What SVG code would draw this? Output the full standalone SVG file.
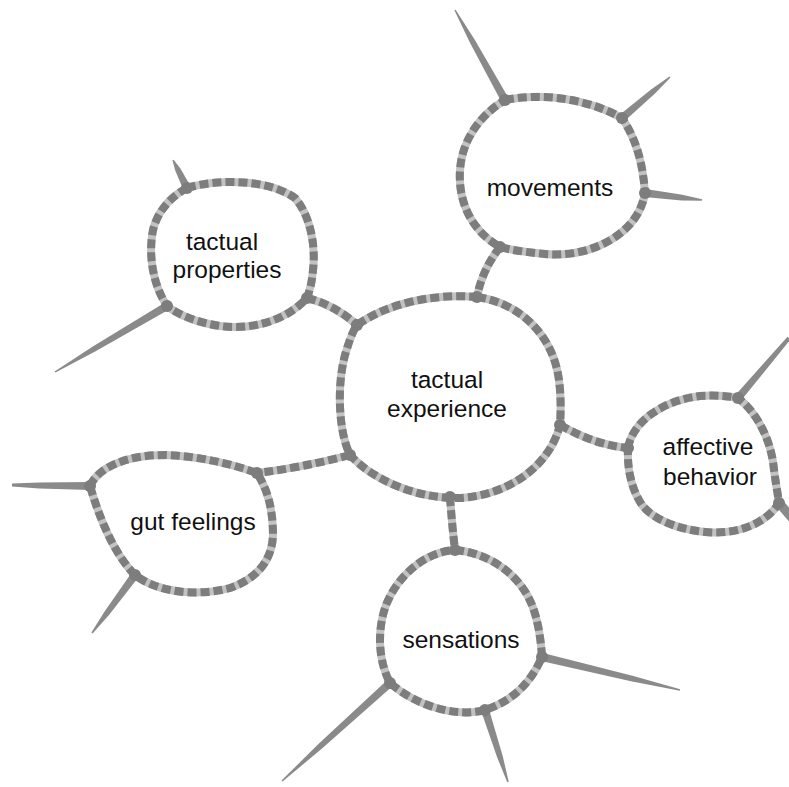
<svg xmlns="http://www.w3.org/2000/svg" width="789" height="787" viewBox="0 0 789 787">
<style>
.base{fill:none;stroke:#c2c2c2;stroke-width:8;stroke-linejoin:round;stroke-linecap:round}
.dash{fill:none;stroke:#7d7d7d;stroke-width:8;stroke-dasharray:9 4;stroke-linejoin:round}
.br{fill:#8a8a8a;stroke:none}
.jn{fill:#7d7d7d}
text{font-family:"Liberation Sans",Arial,sans-serif;font-size:24.5px;fill:#111;text-anchor:middle}
</style>
<defs>
<path id="b-mov" d="M505,100 C545,92 590,100 622,118 C637,140 643,165 645,193 C638,235 590,258 545,254 C525,252 510,250 500,247 C470,230 458,200 460,170 C462,140 480,115 505,100 Z"/>
<path id="b-prop" d="M187,188 C220,178 270,180 295,198 C310,215 316,245 313,270 C312,282 310,290 307,298 C285,322 250,330 220,326 C200,323 180,316 167,306 C153,285 148,255 153,230 C158,210 172,196 187,188 Z"/>
<path id="b-cen" d="M477,297 C520,303 553,335 559,380 C561,395 561,410 560,425 C550,465 510,495 460,498 C420,499 375,482 350,455 C338,430 337,385 345,355 C349,342 352,332 357,325 C385,305 430,293 477,297 Z"/>
<path id="b-gut" d="M90,486 C98,468 125,455 165,455 C200,456 235,465 257,473 C268,490 273,510 273,535 C272,560 258,578 230,588 C200,596 160,594 135,575 C115,555 100,520 90,486 Z"/>
<path id="b-aff" d="M628,448 C633,420 665,400 700,396 C715,395 728,396 738,398 C760,415 772,445 774,470 C776,485 778,495 779,503 C765,525 735,535 705,532 C675,529 652,518 642,505 C632,490 627,470 628,448 Z"/>
<path id="b-sen" d="M455,550 C490,553 520,575 532,605 C538,620 541,640 542,657 C530,685 510,702 485,710 C455,718 415,705 390,683 C378,660 377,630 386,605 C398,575 425,552 455,550 Z"/>
</defs>
<rect width="789" height="787" fill="#fff"/>
<g id="connectors">
<path class="base" d="M500,247 Q482,270 477,297"/>
<path class="dash" d="M500,247 Q482,270 477,297"/>
<path class="base" d="M307,298 Q335,305 357,325"/>
<path class="dash" d="M307,298 Q335,305 357,325"/>
<path class="base" d="M350,455 Q300,468 257,473"/>
<path class="dash" d="M350,455 Q300,468 257,473"/>
<path class="base" d="M560,425 Q595,445 628,448"/>
<path class="dash" d="M560,425 Q595,445 628,448"/>
<path class="base" d="M450,497 Q452,525 455,550"/>
<path class="dash" d="M450,497 Q452,525 455,550"/>
</g>
<g id="movements">
<polygon class="br" points="508.5,98.1 474.9,40.1 455.6,9.7 454.4,10.3 470.1,42.9 501.5,101.9"/>
<polygon class="br" points="624.6,121 655,93.5 670.5,77.5 669.5,76.5 651.4,89.3 619.4,115"/>
<polygon class="br" points="644.5,197 681.7,200.4 701.9,200.7 702.1,199.3 682.3,194.8 645.5,189"/>
<use href="#b-mov" class="base"/><use href="#b-mov" class="dash"/>
<circle class="jn" cx="505" cy="100" r="6"/><circle class="jn" cx="622" cy="118" r="6"/><circle class="jn" cx="645" cy="193" r="6"/><circle class="jn" cx="500" cy="247" r="6"/>
<text x="550" y="196">movements</text>
</g>
<g id="tactual-properties">
<polygon class="br" points="190.6,186.2 180.4,168.6 173.6,159.7 172.4,160.3 175.4,171.1 183.4,189.8"/>
<polygon class="br" points="165,302.6 92.8,346.5 54.6,371.4 55.4,372.6 95.6,351.3 169,309.4"/>
<use href="#b-prop" class="base"/><use href="#b-prop" class="dash"/>
<circle class="jn" cx="187" cy="188" r="6"/><circle class="jn" cx="167" cy="306" r="6"/><circle class="jn" cx="307" cy="298" r="6"/>
<text x="222" y="250">tactual</text>
<text x="227" y="278">properties</text>
</g>
<g id="tactual-experience">
<use href="#b-cen" class="base"/><use href="#b-cen" class="dash"/>
<circle class="jn" cx="477" cy="297" r="6"/><circle class="jn" cx="357" cy="325" r="6"/><circle class="jn" cx="350" cy="455" r="6"/><circle class="jn" cx="560" cy="425" r="6"/><circle class="jn" cx="450" cy="497" r="6"/>
<text x="447" y="388">tactual</text>
<text x="447" y="417">experience</text>
</g>
<g id="gut-feelings">
<polygon class="br" points="90,482 39.3,482.4 12,483.5 12,486.5 39.3,488.4 90,490"/>
<polygon class="br" points="131.8,572.6 104.9,611 91.4,632.6 92.6,633.4 109.4,614.4 138.2,577.4"/>
<use href="#b-gut" class="base"/><use href="#b-gut" class="dash"/>
<circle class="jn" cx="90" cy="486" r="6"/><circle class="jn" cx="257" cy="473" r="6"/><circle class="jn" cx="135" cy="575" r="6"/>
<text x="193" y="530">gut feelings</text>
</g>
<g id="affective-behavior">
<polygon class="br" points="741,400.6 773.3,360.8 790.5,339.3 787.5,336.7 769.1,357.2 735,395.4"/>
<polygon class="br" points="775.6,506 788.6,521 795.4,515 782.4,500"/>
<use href="#b-aff" class="base"/><use href="#b-aff" class="dash"/>
<circle class="jn" cx="628" cy="448" r="6"/><circle class="jn" cx="738" cy="398" r="6"/><circle class="jn" cx="779" cy="503" r="6"/>
<text x="708" y="455">affective</text>
<text x="710" y="485">behavior</text>
</g>
<g id="sensations">
<polygon class="br" points="541.1,660.9 631,681.2 679.8,690.7 680.2,689.3 632.4,675.8 542.9,653.1"/>
<polygon class="br" points="387.3,680 317.9,744.6 281.5,780.5 282.5,781.5 321.7,748.8 392.7,686"/>
<polygon class="br" points="481.2,711.2 497.3,757.7 507.3,782.2 508.7,781.8 502.7,755.9 488.8,708.8"/>
<use href="#b-sen" class="base"/><use href="#b-sen" class="dash"/>
<circle class="jn" cx="455" cy="550" r="6"/><circle class="jn" cx="390" cy="683" r="6"/><circle class="jn" cx="485" cy="710" r="6"/><circle class="jn" cx="542" cy="657" r="6"/>
<text x="461" y="648">sensations</text>
</g>
</svg>
